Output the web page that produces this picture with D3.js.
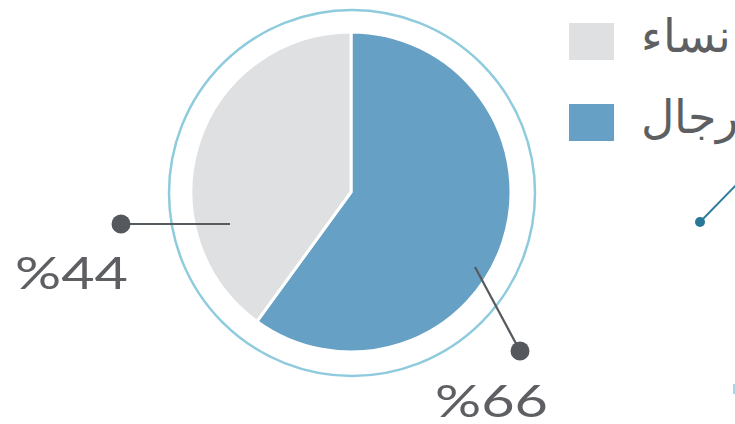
<!DOCTYPE html>
<html><head><meta charset="utf-8">
<script src="https://cdn.jsdelivr.net/npm/d3@7"></script>
<style>html,body{margin:0;padding:0;background:#fff;overflow:hidden}</style>
</head><body>
<svg id="c" width="735" height="424"></svg>
<script>
const categories = ["رجال", "نساء"];
const values = [66, 44];
const labels = ["%66", "%44"];
const colors = ["#66a1c5", "#dfe0e2"];

const svg = d3.select("#c");
const cx = 351, cy = 192, r = 160;
const g = svg.append("g").attr("transform", `translate(${cx},${cy})`);

// outer ring
svg.append("circle").attr("cx", 352).attr("cy", 193).attr("r", 183)
  .attr("fill", "none").attr("stroke", "#8ecbdd").attr("stroke-width", 2.5);

const pie = d3.pie().sort(null).value(d => d)(values);
const arc = d3.arc().innerRadius(0).outerRadius(r);
g.selectAll("path").data(pie).join("path")
  .attr("d", arc).attr("fill", (d, i) => colors[i])
  .attr("stroke", "#fff").attr("stroke-width", 3).attr("stroke-linejoin", "round");

// leader lines
const leaders = [
  {from: [475, 267], to: [520, 351], text: [435, 417]},
  {from: [230, 224], to: [121, 224], text: [15, 289]}
];
leaders.forEach((l, i) => {
  svg.append("line").attr("x1", l.from[0]).attr("y1", l.from[1])
    .attr("x2", l.to[0]).attr("y2", l.to[1])
    .attr("stroke", "#555a5f").attr("stroke-width", 2.2);
  svg.append("circle").attr("cx", l.to[0]).attr("cy", l.to[1]).attr("r", 9.5)
    .attr("fill", "#55595d");
  svg.append("text").attr("x", l.text[0]).attr("y", l.text[1])
    .attr("font-family", "Lato, 'Noto Sans', sans-serif").attr("font-weight", 400)
    .attr("font-size", 44).attr("fill", "#5d5f62")
    .attr("textLength", 113).attr("lengthAdjust", "spacingAndGlyphs")
    .text(labels[i]);
});

// legend
const legY = [104, 23];
categories.forEach((c, i) => {
  svg.append("rect").attr("x", 569).attr("y", legY[i]).attr("width", 45).attr("height", 37)
    .attr("fill", colors[i]);
  svg.append("text").attr("x", 641).attr("y", legY[i] + 29)
    .attr("font-family", "'DejaVu Sans', sans-serif").attr("font-size", 46)
    .attr("fill", "#5d5f62").attr("font-weight", 200).text(c);
});

// partial teal pointer at right edge
svg.append("line").attr("x1", 700).attr("y1", 222).attr("x2", 740).attr("y2", 181)
  .attr("stroke", "#2f7d9c").attr("stroke-width", 2);
svg.append("circle").attr("cx", 700).attr("cy", 222).attr("r", 5).attr("fill", "#2a7898");
svg.append("line").attr("x1", 734).attr("y1", 384).attr("x2", 734).attr("y2", 394)
  .attr("stroke", "#a8d6e6").attr("stroke-width", 2);
</script>
</body></html>
